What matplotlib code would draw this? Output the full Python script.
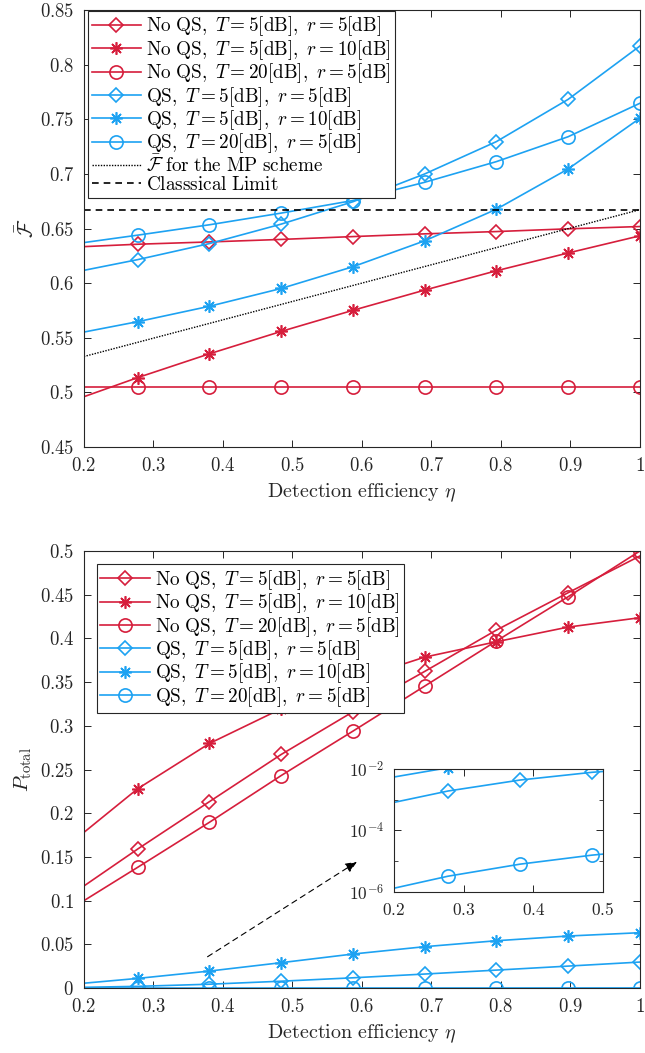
import math
import matplotlib
matplotlib.use("Agg")
import matplotlib.pyplot as plt
from matplotlib.ticker import FixedLocator, FuncFormatter, LogLocator, NullFormatter

plt.rcParams["mathtext.fontset"] = "cm"
plt.rcParams["font.family"] = "serif"
plt.rcParams["font.serif"] = ["DejaVu Serif"]

# detection efficiency grid (first point = left edge, others carry markers)
eta = [0.2, 0.2774, 0.3806, 0.4839, 0.5871, 0.6903, 0.7935, 0.8968, 1.0]

# average fidelity (top panel)
fid_noqs_5_5 = [0.6334, 0.6356, 0.6377, 0.6400, 0.6426, 0.6451, 0.6472, 0.6497, 0.6518]
fid_noqs_5_10 = [0.4960, 0.5135, 0.5353, 0.5558, 0.5751, 0.5936, 0.6113, 0.6276, 0.6433]
fid_noqs_20_5 = [0.5052, 0.5052, 0.5052, 0.5052, 0.5052, 0.5052, 0.5052, 0.5052, 0.5052]
fid_qs_5_5 = [0.6117, 0.6215, 0.6362, 0.6540, 0.6745, 0.6999, 0.7295, 0.7682, 0.8170]
fid_qs_5_10 = [0.5552, 0.5647, 0.5788, 0.5951, 0.6150, 0.6387, 0.6676, 0.7045, 0.7509]
fid_qs_20_5 = [0.6371, 0.6439, 0.6534, 0.6641, 0.6756, 0.6923, 0.7112, 0.7340, 0.7646]
mp_eta = [0.2, 1.0]
fid_mp = [0.5328, 0.6672]
classical_limit = 2 / 3

# total success probability (bottom panel)
p_noqs_5_5 = [0.1167, 0.1590, 0.2132, 0.2672, 0.3160, 0.3622, 0.4095, 0.4523, 0.4943]
p_noqs_5_10 = [0.1780, 0.2280, 0.2798, 0.3195, 0.3520, 0.3786, 0.3962, 0.4130, 0.4237]
p_noqs_20_5 = [0.0999, 0.1381, 0.1896, 0.2431, 0.2939, 0.3454, 0.3970, 0.4477, 0.5000]
p_qs_5_5 = [0.00082, 0.00192, 0.00437, 0.0078, 0.0117, 0.0160, 0.0205, 0.0251, 0.0297]
p_qs_5_10 = [0.0055, 0.0110, 0.0194, 0.0290, 0.0389, 0.0473, 0.0541, 0.0595, 0.0633]
p_qs_20_5 = [1.32e-6, 3.24e-6, 7.98e-6, 1.57e-5, 2.6e-5, 4.0e-5, 5.8e-5, 8.0e-5, 1.05e-4]

red = "#D61E3C"
blue = "#1DA2F2"
gray = "#262626"
star = (8, 2, 0)

labels = [
    r"$\mathrm{No\ QS,}\ T=5[\mathrm{dB}],\ r=5[\mathrm{dB}]$",
    r"$\mathrm{No\ QS,}\ T=5[\mathrm{dB}],\ r=10[\mathrm{dB}]$",
    r"$\mathrm{No\ QS,}\ T=20[\mathrm{dB}],\ r=5[\mathrm{dB}]$",
    r"$\mathrm{QS,}\ T=5[\mathrm{dB}],\ r=5[\mathrm{dB}]$",
    r"$\mathrm{QS,}\ T=5[\mathrm{dB}],\ r=10[\mathrm{dB}]$",
    r"$\mathrm{QS,}\ T=20[\mathrm{dB}],\ r=5[\mathrm{dB}]$",
]
markers = ["D", star, "o", "D", star, "o"]
colors = [red, red, red, blue, blue, blue]
msizes = [8.5, 9, 9.5, 8.5, 9, 9.5]


def fmt(v, pos):
    return r"$%s$" % ("%g" % round(v, 3))


def style_axes(ax, size):
    ax.tick_params(direction="in", top=True, right=True, length=5, width=0.7,
                   colors=gray, labelsize=size, pad=7)
    for s in ax.spines.values():
        s.set_color(gray)
        s.set_linewidth(0.8)
    ax.xaxis.set_major_formatter(FuncFormatter(fmt))


def draw(ax, series, lw=1.2):
    for y, lab, m, c, ms in zip(series, labels, markers, colors, msizes):
        s = ms * 0.85 if m == "D" else ms
        ax.plot(eta, y, color=c, lw=lw, label=lab, marker=m, markersize=s,
                markerfacecolor="none", markeredgecolor=c, markeredgewidth=1.2,
                markevery=slice(1, None))


def legend(ax, anchor):
    leg = ax.legend(loc="upper left", bbox_to_anchor=anchor, fontsize=13.8,
                    handlelength=2.6, handletextpad=0.25, labelspacing=-0.02,
                    borderpad=0.2, borderaxespad=0.0, fancybox=False,
                    edgecolor=gray, framealpha=1)
    leg.get_frame().set_linewidth(0.8)
    return leg


fig = plt.figure(figsize=(6.45, 10.53), dpi=100)

# ---------------- top panel ----------------
ax1 = fig.add_axes([0.130, 0.5755, 0.862, 0.415])
draw(ax1, [fid_noqs_5_5, fid_noqs_5_10, fid_noqs_20_5, fid_qs_5_5, fid_qs_5_10, fid_qs_20_5])
ax1.plot(mp_eta, fid_mp, color="k", lw=1.0, ls=(0, (1, 1)),
         label=r"$\bar{\mathcal{F}}\ \mathrm{for\ the\ MP\ scheme}$")
ax1.axhline(classical_limit, color="k", lw=1.2, ls=(0, (4, 3)),
            label=r"$\mathrm{Classsical\ Limit}$")
ax1.set_xlim(0.2, 1.0)
ax1.set_ylim(0.45, 0.85)
ax1.xaxis.set_major_locator(FixedLocator([0.2, 0.3, 0.4, 0.5, 0.6, 0.7, 0.8, 0.9, 1.0]))
ax1.yaxis.set_major_locator(FixedLocator([0.45, 0.5, 0.55, 0.6, 0.65, 0.7, 0.75, 0.8, 0.85]))
style_axes(ax1, 13.5)
ax1.yaxis.set_major_formatter(FuncFormatter(fmt))
ax1.set_xlabel(r"$\mathrm{Detection\ efficiency}\ \eta$", fontsize=14.5, color=gray, labelpad=5)
ax1.set_ylabel(r"$\bar{\mathcal{F}}$", fontsize=15, color=gray, labelpad=1)
legend(ax1, (0.007, 0.998))

# ---------------- bottom panel ----------------
ax2 = fig.add_axes([0.130, 0.0617, 0.862, 0.415])
draw(ax2, [p_noqs_5_5, p_noqs_5_10, p_noqs_20_5, p_qs_5_5, p_qs_5_10, p_qs_20_5])
ax2.set_xlim(0.2, 1.0)
ax2.set_ylim(0.0, 0.5)
ax2.xaxis.set_major_locator(FixedLocator([0.2, 0.3, 0.4, 0.5, 0.6, 0.7, 0.8, 0.9, 1.0]))
ax2.yaxis.set_major_locator(FixedLocator([0, 0.05, 0.1, 0.15, 0.2, 0.25, 0.3, 0.35, 0.4, 0.45, 0.5]))
style_axes(ax2, 13.5)
ax2.yaxis.set_major_formatter(FuncFormatter(fmt))
ax2.set_xlabel(r"$\mathrm{Detection\ efficiency}\ \eta$", fontsize=14.5, color=gray, labelpad=5)
ax2.set_ylabel(r"$P_{\mathrm{total}}$", fontsize=15, color=gray, labelpad=4)
legend(ax2, (0.023, 0.970))

ax2.annotate("", xy=(0.593, 0.1445), xytext=(0.378, 0.0358),
             arrowprops=dict(arrowstyle="-|>,head_length=0.7,head_width=0.3",
                             color="k", lw=0.8, ls=(0, (5, 4)),
                             shrinkA=0, shrinkB=0))

# ---------------- inset ----------------
axi = fig.add_axes([0.611, 0.153, 0.324, 0.1167])
for y, m, c, ms in zip([p_qs_5_5, p_qs_5_10, p_qs_20_5], markers[3:], colors[3:], msizes[3:]):
    s = ms * 0.85 if m == "D" else ms
    axi.plot(eta, y, color=c, lw=1.2, marker=m, markersize=s, markerfacecolor="none",
             markeredgecolor=c, markeredgewidth=1.2, markevery=slice(1, None))
axi.set_yscale("log")
axi.set_xlim(0.2, 0.5)
axi.set_ylim(1e-6, 1e-2)
axi.xaxis.set_major_locator(FixedLocator([0.2, 0.3, 0.4, 0.5]))
axi.yaxis.set_major_locator(FixedLocator([1e-6, 1e-4, 1e-2]))
axi.yaxis.set_minor_locator(LogLocator(base=10, subs=[1.0], numticks=10))
axi.yaxis.set_minor_formatter(NullFormatter())
axi.yaxis.set_major_formatter(FuncFormatter(lambda v, p: r"$10^{%d}$" % round(math.log10(v))))
style_axes(axi, 12.5)
axi.tick_params(which="minor", direction="in", right=True, length=3, colors=gray)

fig.savefig("out.png", dpi=100)
